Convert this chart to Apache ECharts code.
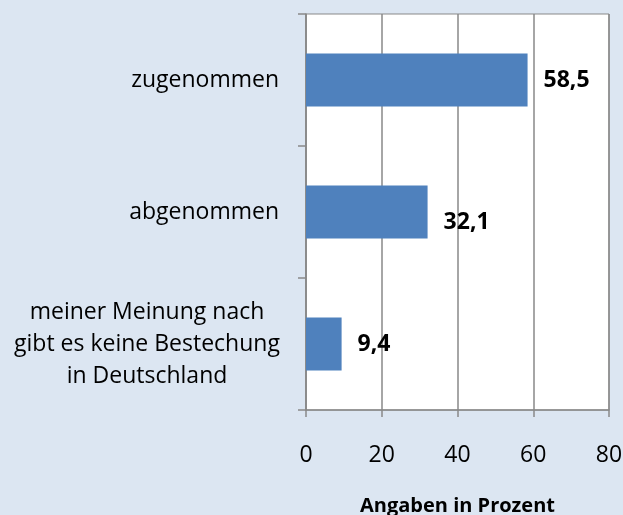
<!DOCTYPE html>
<html>
<head>
<meta charset="utf-8">
<script src="https://cdn.jsdelivr.net/npm/echarts@6/dist/echarts.min.js"></script>
<style>
  html, body { margin: 0; padding: 0; background: #dce6f2; }
  #main { width: 623px; height: 515px; }
</style>
</head>
<body>
<div id="main"></div>
<script>
var categories = [
  'zugenommen',
  'abgenommen',
  'meiner Meinung nach\ngibt es keine Bestechung\nin Deutschland'
];
var values = [58.5, 32.1, 9.4];
var xTicks = [0, 20, 40, 60, 80];

var chartDom = document.getElementById('main');
var myChart = echarts.init(chartDom);
var option;

var FONT = 'Open Sans';

// labels of the data points sit a little lower on the middle bar
var barData = values.map(function (v, i) {
  var item = { value: v };
  if (i === 1) item.label = { offset: [0, 10] };
  return item;
});

option = {
  backgroundColor: '#dce6f2',
  textStyle: { fontFamily: FONT },
  grid: {
    left: 306,
    right: 14,
    top: 14,
    bottom: 105,
    outerBoundsMode: 'none',
    containLabel: false,
    show: true,
    backgroundColor: '#ffffff',
    borderColor: '#898989',
    borderWidth: 1
  },
  xAxis: {
    type: 'value',
    min: xTicks[0],
    max: xTicks[xTicks.length - 1],
    interval: 20,
    name: 'Angaben in Prozent',
    nameLocation: 'middle',
    nameGap: 86,
    nameTextStyle: { fontFamily: FONT, fontWeight: 'bold', fontSize: 20, color: '#000' },
    axisLine: { show: true, lineStyle: { color: '#898989', width: 1.5 } },
    axisTick: { show: true, length: 7, lineStyle: { color: '#898989', width: 1.5 } },
    axisLabel: { margin: 34, fontFamily: FONT, fontSize: 23, color: '#000' },
    splitLine: { show: true, lineStyle: { color: '#898989', width: 1.5 } }
  },
  yAxis: {
    type: 'category',
    inverse: true,
    data: categories,
    axisLine: { show: true, lineStyle: { color: '#898989', width: 1.5 } },
    axisTick: { show: true, length: 8, lineStyle: { color: '#898989', width: 1.5 } },
    axisLabel: {
      margin: 27,
      fontFamily: FONT,
      fontSize: 23,
      color: '#000',
      lineHeight: 32,
      formatter: function (txt) {
        if (txt.indexOf('\n') < 0) return txt;
        return txt.split('\n').map(function (l) { return '{c|' + l + '}'; }).join('\n');
      },
      rich: {
        c: { width: 264, align: 'center', fontFamily: FONT, fontSize: 23, lineHeight: 32, color: '#000' }
      }
    }
  },
  series: [
    {
      type: 'bar',
      data: barData,
      barWidth: '40%',
      itemStyle: { color: '#4f81bd' },
      label: {
        show: true,
        position: 'right',
        distance: 16,
        fontFamily: FONT,
        fontWeight: 'bold',
        fontSize: 23,
        color: '#000',
        formatter: function (p) { return String(p.value).replace('.', ','); }
      }
    }
  ]
};

if (chartDom && myChart) {
  myChart.setOption(option);
} else {
  console.error('Failed to initialize the chart');
}
</script>
</body>
</html>
